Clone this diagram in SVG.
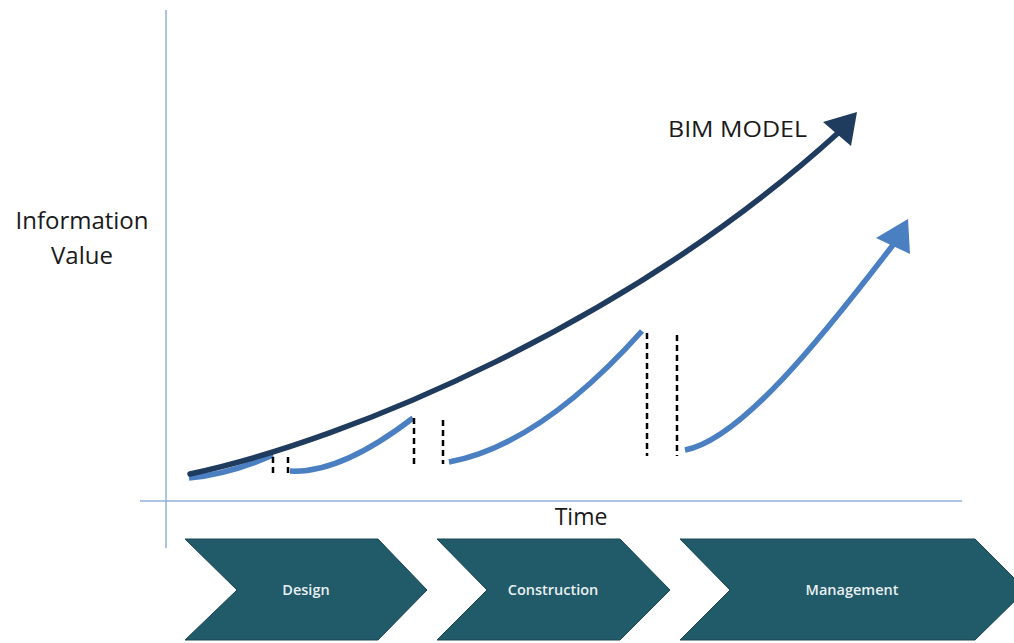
<svg xmlns="http://www.w3.org/2000/svg" width="1014" height="643" viewBox="0 0 1014 643">
<style>
.axis{stroke:#8fb0da;stroke-width:1.5;fill:none}
.lbl{font-family:"Open Sans","Liberation Sans",sans-serif;fill:#1a1a1a}
.chev{fill:#215a69;stroke:#1a4651;stroke-width:1}
.ctext{font-family:"Open Sans","Liberation Sans",sans-serif;font-size:14.5px;font-weight:600;fill:#e8f0f2;text-anchor:middle}
.bim{stroke:#1f3b5e;stroke-width:5.5;fill:none;stroke-linecap:round}
.seg{stroke:#4a7fc1;stroke-width:5.5;fill:none;stroke-linecap:butt}
.dash{stroke:#000;stroke-width:2.5;stroke-dasharray:6 4;fill:none}
</style>
<rect width="1014" height="643" fill="#fff"/>
<g id="axes">
<line class="axis" x1="166" y1="10" x2="166" y2="548"/>
<line class="axis" x1="140" y1="501" x2="962" y2="501"/>
</g>
<g id="labels">
<text class="lbl" x="82" y="229" font-size="24" text-anchor="middle">Information</text>
<text class="lbl" x="82" y="264" font-size="24" text-anchor="middle">Value</text>
<text class="lbl" x="581" y="525" font-size="23" text-anchor="middle">Time</text>
<text class="lbl" x="668" y="137" font-size="22" textLength="139" lengthAdjust="spacingAndGlyphs">BIM MODEL</text>
</g>
<g id="connectors">
<path class="seg" d="M189,478 Q230,474 273,455"/>
<path class="bim" d="M190,474 C350,440 630,322 838,133"/>
<polygon points="823,122 857,112 851,146" fill="#1f3b5e"/>
<path class="seg" d="M290,471 Q340,474 413,418"/>
<path class="seg" d="M449,462 Q540,445 642,331"/>
<path class="seg" d="M685,450 C740,440 820,340 893,245"/>
<polygon points="876,238 908,219 910,254" fill="#4a7fc1"/>
<line class="dash" x1="273" y1="457" x2="273" y2="474"/>
<line class="dash" x1="288" y1="457" x2="288" y2="474"/>
<line class="dash" x1="414" y1="418" x2="414" y2="464"/>
<line class="dash" x1="443" y1="420" x2="443" y2="464"/>
<line class="dash" x1="647" y1="333" x2="647" y2="456"/>
<line class="dash" x1="677" y1="335" x2="677" y2="456"/>
</g>
<g id="design">
<polygon class="chev" points="185,539 378,539 427,590 378,640 185,640 237,590"/>
<text class="ctext" x="306" y="595">Design</text>
</g>
<g id="construction">
<polygon class="chev" points="437,539 620,539 670,590 620,640 437,640 487,590"/>
<text class="ctext" x="553" y="595">Construction</text>
</g>
<g id="management">
<polygon class="chev" points="680,539 975,539 1026,590 975,640 680,640 730,590"/>
<text class="ctext" x="852" y="595">Management</text>
</g>
</svg>
